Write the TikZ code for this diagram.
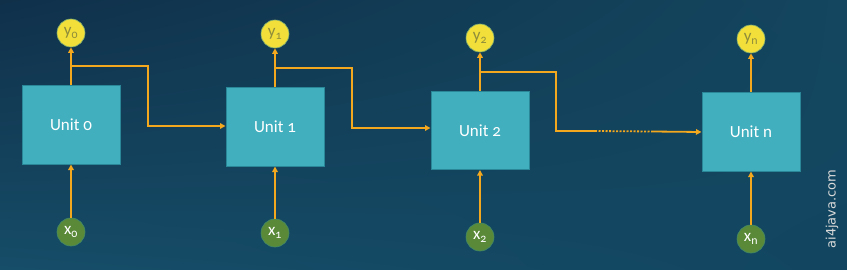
\documentclass[tikz,border=0pt]{standalone}
\usepackage{fontspec}
\setmainfont{Carlito}[Numbers=OldStyle]
\usetikzlibrary{arrows.meta,shadings}
\definecolor{bgA}{HTML}{10304A}
\definecolor{bgB}{HTML}{14465F}
\definecolor{bgC}{HTML}{164D68}
\definecolor{bgD}{HTML}{124660}
\definecolor{unitfill}{HTML}{41AFBE}
\definecolor{unitdraw}{HTML}{2A8797}
\definecolor{ycol}{HTML}{F2DF3A}
\definecolor{ytext}{HTML}{8E8C3A}
\definecolor{xcol}{HTML}{5A8A38}
\definecolor{arr}{HTML}{F4A81E}
\begin{document}
\begin{tikzpicture}[x=1pt,y=-1pt,
  unitbox/.style={draw=unitdraw,line width=1pt,fill=unitfill,minimum width=98pt,minimum height=78pt,inner sep=0pt,text=white,font=\fontsize{17}{17}\selectfont},
  ynode/.style={circle,fill=ycol,draw=unitdraw!60!ycol,line width=0.6pt,minimum size=28pt,inner sep=0pt,text=ytext,font=\fontsize{17}{17}\selectfont},
  xnode/.style={circle,fill=xcol,draw=unitdraw!50!xcol,line width=0.6pt,minimum size=28pt,inner sep=0pt,text=white,font=\fontsize{17}{17}\selectfont},
  flow/.style={draw=arr,line width=1.8pt,-{Triangle[length=5.5pt,width=5.5pt]}},
  link/.style={draw=arr,line width=1.8pt}
]
\shade[upper left=bgA,upper right=bgB,lower left=bgC,lower right=bgD] (0,0) rectangle (847,270);
\useasboundingbox (0,0) rectangle (847,270);

\node[unitbox] (u0) at (71,125) {Unit 0};
\node[unitbox] (u1) at (275,127) {Unit 1};
\node[unitbox] (u2) at (480,130.5) {Unit 2};
\node[unitbox] (un) at (751,132) {Unit n};

\node[ynode] (y0) at (71,33) {y\textsubscript{0}};
\node[ynode] (y1) at (275,34) {y\textsubscript{1}};
\node[ynode] (y2) at (480,38) {y\textsubscript{2}};
\node[ynode] (yn) at (751,39) {y\textsubscript{n}};

\node[xnode] (x0) at (71,232) {x\textsubscript{0}};
\node[xnode] (x1) at (275,233) {x\textsubscript{1}};
\node[xnode] (x2) at (480,237) {x\textsubscript{2}};
\node[xnode] (xn) at (751,239) {x\textsubscript{n}};

\foreach \u/\y/\x in {u0/y0/x0,u1/y1/x1,u2/y2/x2,un/yn/xn}{
  \draw[flow] (\u.north) -- (\y.south);
  \draw[flow] (\x.north) -- (\u.south);
}

\coordinate (b0) at (71,66);
\coordinate (b1) at (275,68);
\coordinate (b2) at (480,72);
\draw[flow] (b0) -| (148,126) -- (u1.west |- 0,126);
\draw[flow] (b1) -| (352,128) -- (u2.west |- 0,128);
\coordinate (d1) at (595,131);
\coordinate (d2) at (652,131.5);
\draw[link] (b2) -| (556,131) -- (d1);
\draw[draw=arr,line width=1.8pt,dash pattern=on 2pt off 1.5pt] (d1) -- (d2);
\draw[flow] (d2) -- (un.west);

\node[rotate=90,text=white!85!black,font={\fontspec{DejaVu Sans}\fontsize{13}{13}\selectfont}] (wm) at (832,209) {ai4java.com};
\end{tikzpicture}
\end{document}
